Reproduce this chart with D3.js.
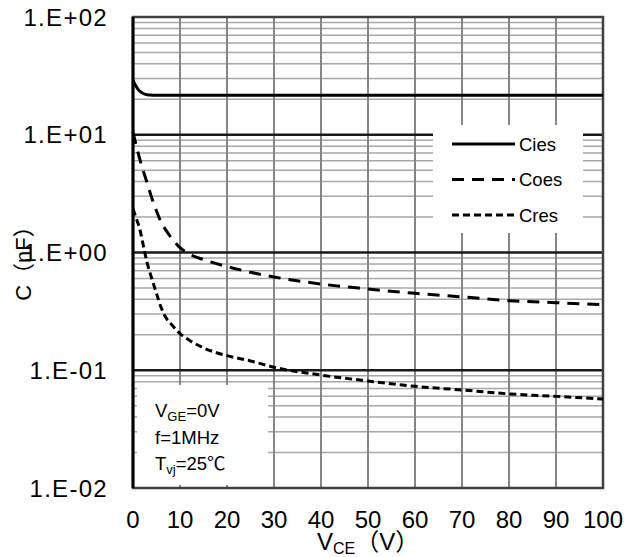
<!DOCTYPE html>
<html><head><meta charset="utf-8">
<script src="https://cdn.jsdelivr.net/npm/d3@7"></script>
<style>
html,body{margin:0;padding:0;background:#fff;}
svg{display:block;}
text{font-family:"Liberation Sans",Arial,"Noto Sans CJK SC",sans-serif;fill:#000;}
</style></head>
<body>
<svg id="chart" width="627" height="557"></svg>
<script>
// ---- data ----
const vce  = [0, 0.5, 1, 1.5, 2, 2.5, 3, 4, 5, 6, 7, 8, 10, 12, 15, 20, 25, 30, 40, 50, 60, 70, 80, 90, 100];
const cies = [29, 26.5, 24.5, 23.3, 22.6, 22.1, 21.9, 21.7, 21.6, 21.6, 21.6, 21.6, 21.6, 21.6, 21.6, 21.6, 21.6, 21.6, 21.6, 21.6, 21.6, 21.6, 21.6, 21.6, 21.6];
const coes = [10.5, 8.7, 7.2, 6.1, 5.2, 4.5, 3.9, 2.9, 2.25, 1.8, 1.55, 1.36, 1.1, 0.97, 0.87, 0.76, 0.68, 0.62, 0.54, 0.49, 0.45, 0.42, 0.39, 0.375, 0.36];
const cres = [2.35, 2.05, 1.8, 1.55, 1.25, 1.0, 0.82, 0.6, 0.45, 0.34, 0.28, 0.25, 0.205, 0.18, 0.155, 0.133, 0.12, 0.106, 0.091, 0.081, 0.073, 0.068, 0.063, 0.06, 0.057];
const seriesNames = ["Cies", "Coes", "Cres"];
const xTicks = [0, 10, 20, 30, 40, 50, 60, 70, 80, 90, 100];
const yTicks = [100, 10, 1, 0.1, 0.01];
const yTickLabels = ["1.E+02", "1.E+01", "1.E+00", "1.E-01", "1.E-02"];
const noteLines = ["V|GE|=0V", "f=1MHz", "T|vj|=25℃"];

// ---- layout ----
const L = 133, R = 603, T = 17, B = 488;
const svg = d3.select("#chart");
const x = d3.scaleLinear().domain([0, 100]).range([L, R]);
const y = d3.scaleLog().domain([0.01, 100]).range([B, T]);

// minor horizontal grid
const minor = [];
[0.01, 0.1, 1, 10].forEach(d => { for (let k = 2; k <= 9; k++) minor.push(k * d); });
svg.append("g").selectAll("line").data(minor).join("line")
  .attr("x1", L).attr("x2", R).attr("y1", d => y(d)).attr("y2", d => y(d))
  .attr("stroke", "#a8a8a8").attr("stroke-width", 1.5);
// vertical grid
svg.append("g").selectAll("line").data(xTicks.slice(1, -1)).join("line")
  .attr("x1", d => x(d)).attr("x2", d => x(d)).attr("y1", T).attr("y2", B)
  .attr("stroke", "#868686").attr("stroke-width", 2);
// decade lines
svg.append("g").selectAll("line").data(yTicks.slice(1, -1)).join("line")
  .attr("x1", L).attr("x2", R).attr("y1", d => y(d)).attr("y2", d => y(d))
  .attr("stroke", "#1a1a1a").attr("stroke-width", 2.5);

// white boxes (legend + note)
svg.append("rect").attr("x", 433).attr("y", 125).attr("width", 150).attr("height", 108).attr("fill", "#fff");
svg.append("rect").attr("x", 137).attr("y", 385).attr("width", 131).attr("height", 100).attr("fill", "#fff");

// border
svg.append("rect").attr("x", L).attr("y", T).attr("width", R - L).attr("height", B - T)
  .attr("fill", "none").attr("stroke", "#404040").attr("stroke-width", 2.5);
svg.append("line").attr("x1", L).attr("x2", L).attr("y1", T).attr("y2", B)
  .attr("stroke", "#000").attr("stroke-width", 3);

// curves
const dash = { Cies: null, Coes: "12,8", Cres: "7,4" };
const vals = { Cies: cies, Coes: coes, Cres: cres };
const line = d3.line().x(d => x(d[0])).y(d => y(d[1])).curve(d3.curveMonotoneX);
seriesNames.forEach(n => {
  svg.append("path").datum(vce.map((v, i) => [v, vals[n][i]]))
    .attr("d", line).attr("fill", "none").attr("stroke", "#000")
    .attr("stroke-width", 3).attr("stroke-dasharray", dash[n]);
});

// legend
const lg = svg.append("g");
seriesNames.forEach((n, i) => {
  const yy = 144 + i * 35.5;
  lg.append("line").attr("x1", 452).attr("x2", 515).attr("y1", yy).attr("y2", yy)
    .attr("stroke", "#000").attr("stroke-width", 3).attr("stroke-dasharray", dash[n]);
  lg.append("text").attr("x", 519).attr("y", yy).attr("dy", "0.36em")
    .attr("font-size", 18.5).text(n);
});

// note text
noteLines.forEach((s, i) => {
  const parts = s.split("|");
  const t = svg.append("text").attr("x", 155).attr("y", 417 + i * 26.5).attr("font-size", 18.5);
  t.append("tspan").text(parts[0]);
  if (parts.length > 1) {
    t.append("tspan").attr("font-size", 13).attr("dy", 4).text(parts[1]);
    t.append("tspan").attr("dy", -4).text(parts[2]);
  }
});

// axis tick labels
svg.append("g").selectAll("text").data(xTicks).join("text")
  .attr("x", d => x(d)).attr("y", 528).attr("text-anchor", "middle")
  .attr("font-size", 24).text(d => d);
svg.append("g").selectAll("text").data(yTicks).join("text")
  .attr("x", 108).attr("y", d => y(d)).attr("dy", "0.36em").attr("text-anchor", "end")
  .attr("font-size", 24).attr("letter-spacing", 1.3).text((d, i) => yTickLabels[i]);

// axis titles
const xt = svg.append("text").attr("x", 317).attr("y", 550).attr("font-size", 24);
xt.append("tspan").text("V");
xt.append("tspan").attr("font-size", 16).attr("dy", 4).text("CE");
xt.append("tspan").attr("dy", -4).text("（V）");

svg.append("text").attr("transform", "translate(31,258) rotate(-90)")
  .attr("text-anchor", "middle").attr("font-size", 22).text("C（nF）");
</script>
</body></html>
